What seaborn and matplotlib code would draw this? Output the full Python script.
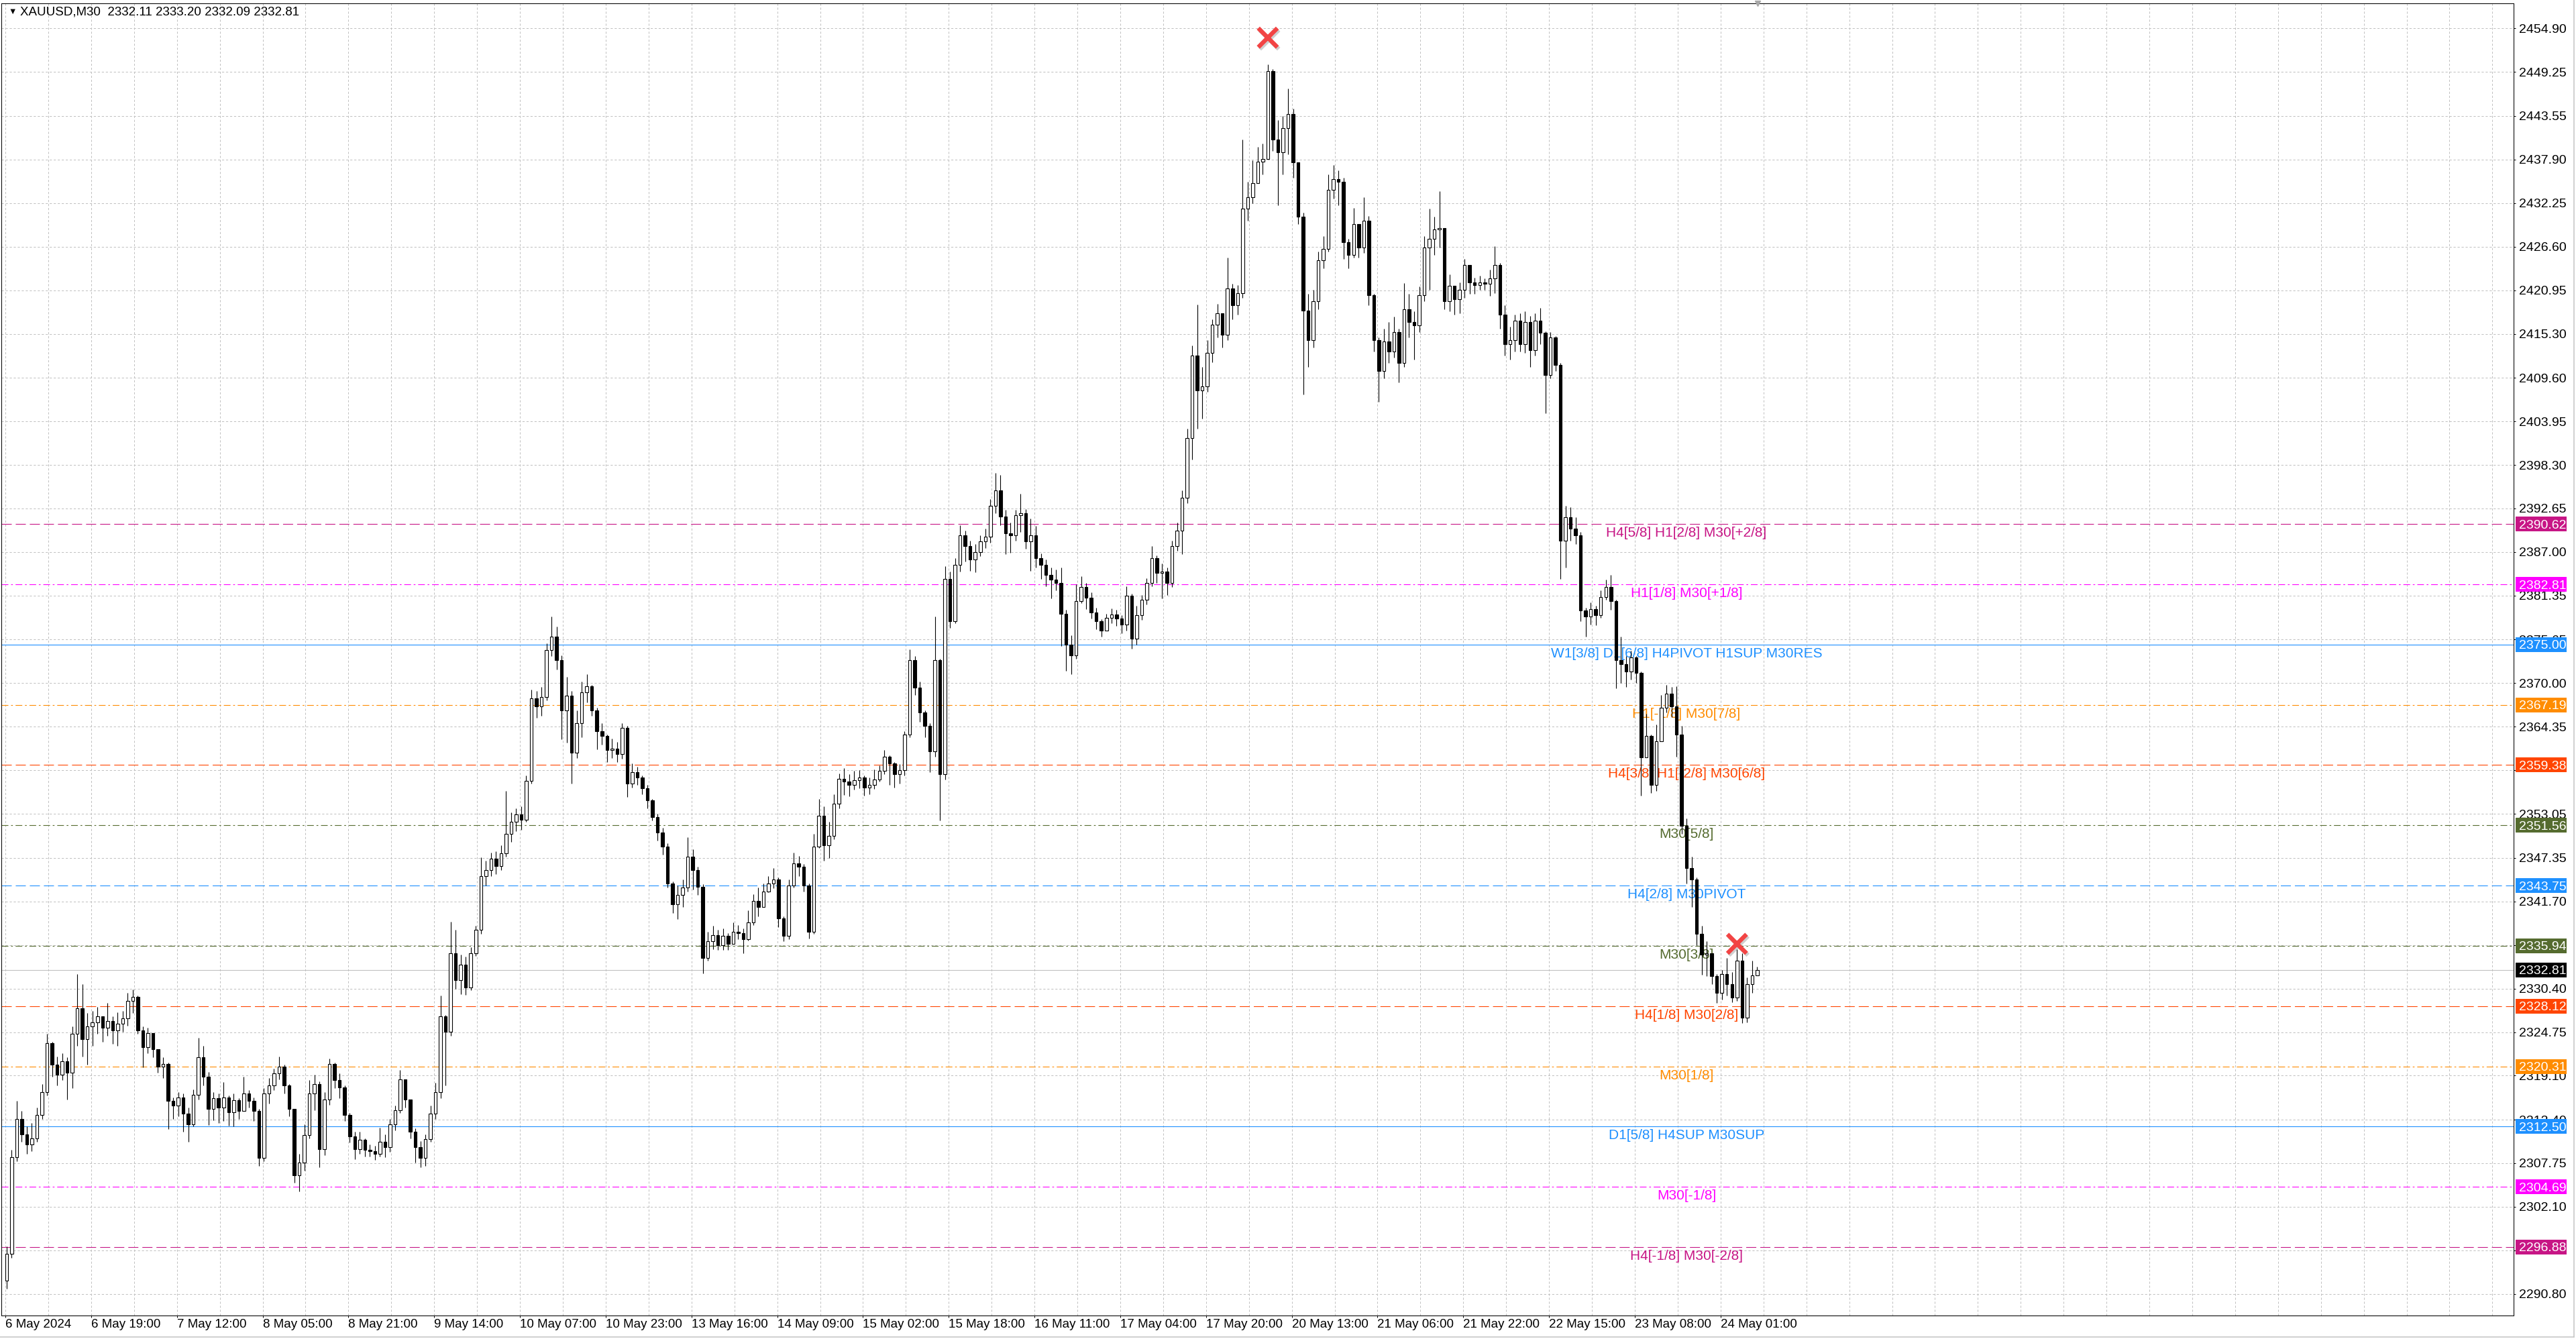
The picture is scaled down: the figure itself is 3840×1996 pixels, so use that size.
#!/usr/bin/python
# XAUUSD M30 with murrey math levels, redrawn from a terminal screenshot

import numpy as np
import pandas as pd
import seaborn as sns
import matplotlib
matplotlib.use('Agg')
import matplotlib.pyplot as plt
import matplotlib.patheffects as pe
import matplotlib.transforms as mtrans
from matplotlib.patches import Rectangle
from matplotlib.lines import Line2D

# hourly candles, open of each one = previous close
first_open = 2292.5
closes = [
    2296.0, 2308.5, 2313.5, 2311.5, 2310.2, 2311.0, 2314.0, 2317.0, 2323.3, 2320.5,
    2319.2, 2321.0, 2319.5, 2324.5, 2327.8, 2323.8, 2325.5, 2326.0, 2326.8, 2325.3,
    2326.2, 2325.0, 2325.8, 2326.5, 2328.8, 2329.3, 2325.0, 2322.8, 2324.6, 2322.5,
    2320.3, 2320.6, 2315.8, 2315.2, 2316.3, 2314.2, 2312.8, 2316.6, 2321.5, 2319.0,
    2314.8, 2316.2, 2315.0, 2316.3, 2314.4, 2315.9, 2314.5, 2316.8, 2315.8, 2314.5,
    2308.4, 2316.8, 2317.8, 2319.4, 2320.3, 2317.8, 2314.8, 2306.2, 2307.8, 2311.4,
    2316.8, 2318.0, 2309.6, 2316.0, 2320.6, 2318.5, 2317.6, 2314.0, 2311.2, 2309.6,
    2310.8, 2309.5, 2309.3, 2309.0, 2310.5, 2309.8, 2312.8, 2314.6, 2318.6, 2316.0,
    2311.8, 2309.8, 2308.4, 2310.9, 2314.2, 2317.0, 2326.8, 2324.8, 2335.0, 2331.5,
    2333.5, 2330.5, 2335.0, 2338.0, 2345.0, 2345.8, 2347.2, 2346.3, 2347.9, 2350.5,
    2352.0, 2353.0, 2352.3, 2357.3, 2368.0, 2367.0, 2368.2, 2374.3, 2376.0, 2373.0,
    2366.5, 2368.4, 2361.0, 2364.8, 2368.8, 2369.6, 2366.5, 2363.8, 2363.2, 2361.3,
    2361.5, 2360.8, 2364.2, 2357.0, 2358.5, 2357.8, 2356.4, 2354.8, 2352.6, 2350.6,
    2348.8, 2344.0, 2341.3, 2342.5, 2343.5, 2347.5, 2345.8, 2343.6, 2334.4, 2336.5,
    2337.3, 2336.0, 2337.2, 2336.2, 2337.8, 2337.6, 2336.8, 2339.0, 2341.8, 2341.0,
    2343.0, 2344.0, 2344.5, 2339.5, 2337.2, 2343.8, 2346.6, 2346.2, 2343.8, 2337.8,
    2348.8, 2352.8, 2349.0, 2350.2, 2354.4, 2357.6, 2357.2, 2356.8, 2357.4, 2357.8,
    2356.5, 2356.8, 2357.5, 2358.6, 2360.5, 2359.6, 2358.2, 2358.7, 2363.3, 2373.0,
    2369.4, 2366.2, 2364.5, 2361.2, 2373.0, 2358.2, 2383.5, 2378.0, 2385.3, 2389.2,
    2387.8, 2386.0, 2387.0, 2388.4, 2389.0, 2393.0, 2395.0, 2391.6, 2389.4, 2389.2,
    2391.8, 2392.0, 2388.4, 2389.2, 2386.2, 2385.3, 2384.0, 2383.4, 2383.0, 2379.0,
    2375.0, 2373.6, 2380.6, 2382.5, 2381.1, 2379.2, 2378.0, 2376.8, 2378.5, 2378.9,
    2378.4, 2377.6, 2381.3, 2375.8, 2378.8, 2380.8, 2383.0, 2386.2, 2384.3, 2384.5,
    2383.0, 2387.8, 2389.8, 2394.0, 2401.8, 2412.5, 2408.0, 2408.5, 2412.8, 2416.5,
    2418.0, 2415.2, 2421.2, 2419.0, 2420.6, 2431.5, 2433.0, 2434.8, 2437.6, 2438.0,
    2449.4, 2440.5, 2438.8, 2442.0, 2443.8, 2437.5, 2430.5, 2418.3, 2414.5, 2419.5,
    2424.8, 2426.3, 2434.0, 2435.4, 2435.0, 2427.2, 2425.5, 2429.5, 2426.5, 2430.0,
    2420.3, 2414.5, 2410.5, 2414.3, 2413.0, 2415.5, 2411.5, 2418.5, 2416.8, 2416.4,
    2420.3, 2426.5, 2427.6, 2428.8, 2429.0, 2419.5, 2421.5, 2419.8, 2421.0, 2424.2,
    2422.0, 2421.6, 2422.0, 2421.8, 2422.5, 2424.2, 2417.8, 2414.0, 2414.5, 2417.0,
    2414.0, 2416.8, 2413.2, 2417.0, 2415.4, 2410.0, 2414.8, 2411.3, 2388.5, 2391.5,
    2390.0, 2389.2, 2379.4, 2378.6, 2379.6, 2378.8, 2381.2, 2382.5, 2380.6, 2373.0,
    2372.5, 2371.5, 2373.3, 2371.3, 2360.4, 2363.2, 2356.8, 2362.5, 2366.8, 2368.6,
    2367.0, 2363.3, 2351.5, 2346.0, 2344.5, 2337.5, 2334.8, 2335.0, 2332.0, 2329.8,
    2332.3, 2331.0, 2329.2, 2334.0, 2326.6, 2331.0, 2332.11, 2332.81,
]
highs = [
    2297.0, 2309.5, 2315.8, 2314.5, 2312.5, 2313.0, 2315.0, 2318.0, 2324.5, 2323.5,
    2321.6, 2322.0, 2321.5, 2325.5, 2332.3, 2331.0, 2327.2, 2327.5, 2328.0, 2326.8,
    2328.5, 2326.8, 2327.3, 2327.5, 2329.8, 2330.3, 2329.5, 2325.5, 2325.3, 2324.5,
    2322.5, 2321.5, 2320.8, 2316.3, 2317.0, 2316.8, 2315.0, 2317.3, 2324.0, 2323.0,
    2319.6, 2317.0, 2316.8, 2318.3, 2316.5, 2316.8, 2316.2, 2319.0, 2317.2, 2316.3,
    2314.8, 2317.5, 2318.8, 2320.0, 2321.6, 2320.5, 2318.0, 2314.8, 2309.0, 2312.8,
    2318.5, 2319.2, 2318.4, 2317.0, 2321.3, 2320.8, 2319.4, 2317.8, 2314.3, 2311.8,
    2311.8, 2311.0, 2310.2, 2310.0, 2312.4, 2311.5, 2313.5, 2315.2, 2319.8, 2318.5,
    2315.6, 2312.3, 2310.6, 2311.5, 2315.2, 2318.2, 2329.5, 2327.0, 2339.1, 2338.0,
    2334.8, 2334.5, 2335.8, 2338.5, 2347.4, 2347.0, 2348.0, 2348.2, 2349.0, 2356.0,
    2353.2, 2353.8, 2354.0, 2358.0, 2369.2, 2369.0, 2369.5, 2375.2, 2378.6, 2377.3,
    2373.6, 2370.8, 2369.0, 2366.5, 2370.2, 2371.2, 2369.8, 2366.8, 2364.8, 2363.3,
    2362.8, 2362.4, 2364.8, 2364.5, 2359.6, 2359.2, 2358.0, 2356.8, 2355.0, 2353.1,
    2351.2, 2349.2, 2344.3, 2343.8, 2344.5, 2350.0, 2348.5, 2346.2, 2343.9, 2337.8,
    2338.5, 2338.0, 2338.2, 2337.6, 2339.0, 2338.6, 2338.2, 2340.5, 2342.6, 2343.5,
    2344.0, 2345.0, 2346.0, 2344.8, 2339.8, 2344.5, 2348.0, 2347.6, 2346.5, 2344.0,
    2350.5, 2355.0, 2354.0, 2352.0, 2355.6, 2358.3, 2359.0, 2358.2, 2358.6, 2358.7,
    2358.0, 2357.8, 2358.8, 2359.3, 2361.3, 2360.6, 2359.8, 2359.5, 2363.8, 2374.4,
    2373.5, 2370.2, 2366.5, 2364.8, 2378.6, 2373.2, 2385.2, 2384.5, 2386.2, 2390.5,
    2389.8, 2388.5, 2388.0, 2389.2, 2390.0, 2393.9, 2397.3, 2397.0, 2392.5, 2390.8,
    2392.5, 2394.6, 2392.6, 2391.3, 2390.4, 2386.8, 2386.0, 2385.0, 2384.7, 2385.0,
    2379.5, 2376.2, 2382.8, 2383.9, 2383.0, 2381.8, 2379.8, 2378.3, 2379.0, 2379.7,
    2379.5, 2378.8, 2382.6, 2381.6, 2380.0, 2381.4, 2383.6, 2387.8, 2386.6, 2385.5,
    2385.0, 2388.5, 2390.8, 2395.0, 2403.0, 2413.8, 2419.1, 2411.0, 2414.5, 2417.2,
    2419.2, 2418.0, 2425.2, 2421.8, 2421.6, 2440.5, 2435.0, 2437.8, 2439.5, 2440.0,
    2450.2, 2449.6, 2443.0, 2443.5, 2447.1, 2444.5, 2436.8, 2431.0, 2420.5, 2421.0,
    2426.0, 2428.0, 2436.0, 2437.2, 2436.5, 2435.5, 2427.6, 2431.6, 2429.5, 2433.0,
    2430.6, 2420.5, 2414.8, 2416.0, 2416.8, 2417.5, 2416.0, 2421.9, 2420.5, 2418.2,
    2421.4, 2428.0, 2431.5, 2430.5, 2433.8, 2429.0, 2423.0, 2421.5, 2422.0, 2425.0,
    2424.2, 2422.6, 2422.8, 2422.5, 2423.6, 2426.7, 2424.5, 2419.0, 2416.2, 2417.8,
    2418.0, 2418.2, 2417.6, 2418.0, 2418.7, 2415.6, 2415.5, 2415.0, 2411.5, 2393.0,
    2392.8, 2391.5, 2389.6, 2379.8, 2380.5, 2380.0, 2382.0, 2383.4, 2384.0, 2380.8,
    2376.0, 2373.5, 2374.2, 2373.5, 2371.5, 2366.0, 2363.3, 2364.6, 2368.5, 2369.8,
    2369.5, 2369.6, 2364.5, 2352.5, 2347.5, 2344.8, 2338.5, 2336.5, 2334.8, 2332.3,
    2332.8, 2334.4, 2332.5, 2335.5, 2335.0, 2331.8, 2334.0, 2333.20,
]
lows = [
    2291.5, 2295.5, 2308.0, 2310.5, 2309.0, 2309.3, 2310.5, 2313.5, 2316.5, 2319.0,
    2317.8, 2318.5, 2316.0, 2317.5, 2323.0, 2321.6, 2320.5, 2323.0, 2324.5, 2323.5,
    2324.3, 2323.2, 2323.0, 2324.8, 2325.6, 2327.2, 2324.5, 2320.2, 2322.0, 2321.5,
    2319.5, 2318.8, 2312.2, 2313.5, 2313.8, 2311.8, 2310.5, 2312.5, 2316.0, 2317.8,
    2312.7, 2313.3, 2313.0, 2313.2, 2312.6, 2312.5, 2313.5, 2314.5, 2315.0, 2313.2,
    2307.4, 2308.0, 2315.5, 2317.2, 2318.6, 2316.8, 2313.8, 2305.2, 2304.1, 2306.8,
    2311.0, 2314.6, 2307.2, 2308.8, 2315.3, 2317.5, 2316.2, 2313.2, 2310.4, 2308.3,
    2309.0, 2308.6, 2308.6, 2308.2, 2308.6, 2308.5, 2309.2, 2312.0, 2314.3, 2315.0,
    2311.0, 2307.8, 2307.2, 2307.4, 2310.5, 2313.5, 2316.2, 2317.8, 2324.3, 2330.4,
    2329.7, 2329.6, 2330.2, 2334.6, 2337.5, 2343.8, 2345.0, 2345.2, 2345.8, 2347.5,
    2349.4, 2350.8, 2351.0, 2352.0, 2357.0, 2365.5, 2365.8, 2367.8, 2373.5, 2371.8,
    2362.7, 2362.3, 2357.0, 2360.3, 2363.0, 2367.5, 2365.8, 2361.4, 2362.0, 2359.8,
    2360.3, 2359.8, 2360.2, 2355.2, 2356.5, 2356.8, 2355.6, 2353.8, 2352.2, 2349.6,
    2347.8, 2343.5, 2340.2, 2339.4, 2341.0, 2343.0, 2343.2, 2342.5, 2332.4, 2334.0,
    2335.5, 2335.4, 2335.4, 2335.4, 2336.2, 2336.8, 2335.0, 2336.6, 2338.6, 2339.8,
    2341.6, 2342.9, 2343.4, 2338.4, 2336.5, 2336.8, 2343.5, 2345.0, 2343.0, 2336.9,
    2337.5, 2348.6, 2347.0, 2347.3, 2349.8, 2353.8, 2355.5, 2355.3, 2356.2, 2356.4,
    2355.4, 2355.6, 2356.3, 2357.2, 2358.2, 2356.8, 2356.5, 2357.0, 2358.0, 2363.0,
    2368.5, 2365.0, 2363.0, 2358.5, 2360.5, 2352.2, 2357.5, 2377.2, 2377.8, 2384.5,
    2385.8, 2384.6, 2384.4, 2386.5, 2387.5, 2388.2, 2392.0, 2390.5, 2386.7, 2386.9,
    2388.5, 2389.6, 2387.4, 2384.6, 2385.0, 2383.5, 2382.6, 2381.0, 2382.0, 2374.8,
    2371.6, 2371.2, 2373.2, 2380.4, 2379.6, 2378.4, 2377.0, 2376.0, 2376.8, 2377.8,
    2377.4, 2376.5, 2376.8, 2374.5, 2375.0, 2378.2, 2380.2, 2382.6, 2383.0, 2381.0,
    2381.4, 2382.5, 2387.2, 2386.7, 2393.3, 2399.0, 2403.0, 2404.3, 2407.8, 2411.6,
    2414.8, 2413.5, 2414.5, 2417.2, 2417.8, 2420.0, 2430.0, 2432.2, 2435.0, 2436.0,
    2439.8, 2439.0, 2432.0, 2436.0, 2438.6, 2435.5, 2429.5, 2407.4, 2411.0, 2413.5,
    2418.5, 2423.8, 2426.0, 2432.8, 2432.0, 2425.0, 2423.8, 2425.2, 2425.2, 2425.8,
    2419.0, 2413.0, 2406.5, 2409.5, 2411.5, 2412.2, 2409.0, 2411.0, 2414.8, 2412.0,
    2415.5, 2419.5, 2421.0, 2425.5, 2426.5, 2418.5, 2418.2, 2417.8, 2418.0, 2420.0,
    2420.5, 2420.5, 2421.0, 2421.0, 2420.2, 2420.6, 2416.0, 2412.5, 2412.0, 2413.0,
    2413.0, 2412.8, 2411.0, 2412.5, 2414.0, 2405.0, 2409.5, 2410.5, 2383.5, 2385.0,
    2388.5, 2388.0, 2378.0, 2376.0, 2377.6, 2377.5, 2378.5, 2380.8, 2379.5, 2369.3,
    2370.0, 2369.5, 2370.5, 2370.0, 2355.4, 2361.0, 2355.8, 2356.0, 2362.8, 2366.2,
    2365.6, 2360.5, 2350.5, 2344.0, 2341.0, 2336.0, 2332.2, 2332.0, 2331.0, 2328.5,
    2329.0, 2329.5, 2328.6, 2328.8, 2325.9, 2326.0, 2329.8, 2332.09,
]

# murrey math levels drawn on the chart
level_prices = [2390.62, 2382.81, 2375.00, 2367.19, 2359.38, 2351.56, 2343.75,
                2335.94, 2328.12, 2320.31, 2312.50, 2304.69, 2296.88]
level_names = ['H4[5/8] H1[2/8] M30[+2/8]', 'H1[1/8] M30[+1/8]',
               'W1[3/8] D1[6/8] H4PIVOT H1SUP M30RES', 'H1[-1/8] M30[7/8]',
               'H4[3/8] H1[-2/8] M30[6/8]', 'M30[5/8]', 'H4[2/8] M30PIVOT',
               'M30[3/8]', 'H4[1/8] M30[2/8]', 'M30[1/8]', 'D1[5/8] H4SUP M30SUP',
               'M30[-1/8]', 'H4[-1/8] M30[-2/8]']
level_colors = ['#C71585', '#FF00FF', '#1E90FF', '#FF8C00', '#FF4500', '#556B2F', '#1E90FF',
                '#556B2F', '#FF4500', '#FF8C00', '#1E90FF', '#FF00FF', '#C71585']
level_kinds = ['dash', 'dashdot', 'solid', 'dashdot', 'dash', 'dashdot', 'dash',
               'dashdot', 'dash', 'dashdot', 'solid', 'dashdot', 'dash']

current_price = 2332.81
title_text = 'XAUUSD,M30  2332.11 2333.20 2332.09 2332.81'

# red swing crosses (hour index, price)
cross_hours = [250, 343]
cross_prices = [2453.7, 2336.2]

# scale values; the ones fully under a price tag are left blank like on screen
tick_prices = [2454.90, 2449.25, 2443.55, 2437.90, 2432.25, 2426.60, 2420.95, 2415.30,
               2409.60, 2403.95, 2398.30, 2392.65, 2387.00, 2381.35, 2375.65, 2370.00,
               2364.35, 2358.70, 2353.05, 2347.35, 2341.70, 2336.05, 2330.40, 2324.75,
               2319.10, 2313.40, 2307.75, 2302.10, 2296.45, 2290.80]
hidden_ticks = [2358.70, 2336.05, 2296.45]
time_labels = ['6 May 2024', '6 May 19:00', '7 May 12:00', '8 May 05:00', '8 May 21:00',
               '9 May 14:00', '10 May 07:00', '10 May 23:00', '13 May 16:00', '14 May 09:00',
               '15 May 02:00', '15 May 18:00', '16 May 11:00', '17 May 04:00', '17 May 20:00',
               '20 May 13:00', '21 May 06:00', '21 May 22:00', '22 May 15:00', '23 May 08:00',
               '24 May 01:00']

# ---- style
sns.set_theme(style='white')
plt.rcParams['font.family'] = ['Liberation Sans', 'DejaVu Sans']
plt.rcParams['lines.scale_dashes'] = False
dash_map = {'dash': (0, (10.8, 4.3)), 'dashdot': (0, (7.2, 2.9, 1.9, 2.9)), 'solid': '-'}

W, H = 3840, 1996
fig = plt.figure(figsize=(W / 100, H / 100), dpi=100)
fig.patch.set_facecolor('white')
ax = fig.add_axes([2 / W, 35 / H, 3745 / W, 1956 / H])
ax.set_facecolor('white')

# ---- candles
df = pd.DataFrame({'close': closes, 'high': highs, 'low': lows})
df['open'] = [first_open] + closes[:-1]
df['high'] = df[['high', 'open', 'close']].max(axis=1)
df['low'] = df[['low', 'open', 'close']].min(axis=1)
df['bar'] = np.arange(len(df)) * 2 + 0.5   # one hourly candle = two M30 slots
df['bull'] = df['close'] >= df['open']

ax.vlines(df['bar'], df['low'], df['high'], color='black', lw=0.8, zorder=4)
ax.bar(df['bar'], (df['close'] - df['open']).abs(), bottom=df[['open', 'close']].min(axis=1),
       width=1.2, color=np.where(df['bull'], 'white', 'black'), edgecolor='black',
       linewidth=0.8, zorder=5)

# ---- levels
for p, name, c, k in zip(level_prices, level_names, level_colors, level_kinds):
    ax.axhline(p, color=c, lw=0.8, linestyle=dash_map[k], zorder=2)
    ax.text(666.5, p - 0.35, name, color=c, fontsize=15, ha='center', va='top', zorder=3)
ax.axhline(current_price, color='#C0C0C0', lw=0.8, zorder=2)

# ---- crosses
cross_df = pd.DataFrame({'bar': np.array(cross_hours) * 2 + 0.5, 'price': cross_prices})
sns.scatterplot(data=cross_df, x='bar', y='price', marker='x', s=420, color='#F24444',
                linewidth=4.6, ax=ax, zorder=20, legend=False,
                path_effects=[pe.SimpleLineShadow(offset=(1.5, -2), shadow_color='#777777', alpha=0.35),
                              pe.Normal()])

# ---- axes
ax.set_xlim(-1.6, 994.4)
ax.set_ylim(2288.0, 2458.15)
ax.set_xlabel('')
ax.set_ylabel('')

major = [34 * k for k in range(len(time_labels))]
minor = [17 * j for j in range(59) if (17 * j) % 34 != 0 or 17 * j > major[-1]]
ax.set_xticks(major)
ax.set_xticklabels(time_labels, ha='left')
ax.set_xticks(minor, minor=True)
ax.tick_params(axis='x', which='major', direction='out', length=2.2, width=0.72, pad=1.5,
               labelsize=13.5, colors='black', bottom=True)
ax.tick_params(axis='x', which='minor', length=0)

ax.yaxis.tick_right()
ax.set_yticks(tick_prices)
ax.set_yticklabels(['' if t in hidden_ticks else f'{t:.2f}' for t in tick_prices])
ax.tick_params(axis='y', which='major', direction='out', length=2.2, width=0.72, pad=3.6,
               labelsize=14, colors='black', right=True)

ax.grid(True, which='both', color='#C0C0C0', lw=0.72, linestyle=(0, (2.3, 2.0)))
ax.set_axisbelow(True)
for s in ax.spines.values():
    s.set_visible(True)
    s.set_color('black')
    s.set_linewidth(0.75)

# ---- price tags on the right scale
blend = mtrans.blended_transform_factory(ax.transAxes, ax.transData)
tag_prices = level_prices + [current_price]
tag_colors = level_colors + ['black']
for p, c in zip(tag_prices, tag_colors):
    ax.add_patch(Rectangle((1.0008, p - 0.96), 0.0203, 1.92, transform=blend,
                           facecolor=c, edgecolor='none', clip_on=False, zorder=10))
    ax.text(1.0021, p, f'{p:.2f}', transform=blend, color='white', fontsize=14,
            ha='left', va='center_baseline', clip_on=False, zorder=11)

# chart shift marker
ax.plot([694.7], [2458.15], marker='v', ms=6, color='#A8A8A8', clip_on=False, zorder=12)

# ---- header
fig.text(12 / W, 1 - 18 / H, '\u25bc', fontsize=9, va='center', ha='left', color='black')
fig.text(30 / W, 1 - 18 / H, title_text, fontsize=13.5, va='center', ha='left', color='black')

# window frame
fig.add_artist(Line2D([3837 / W, 3837 / W], [3 / H, 1], color='#C8C8C8', lw=1.2))
fig.add_artist(Line2D([0, 3837 / W], [3 / H, 3 / H], color='#C8C8C8', lw=1.2))

fig.savefig('out.png', dpi=100, facecolor='white')
print('saved out.png')
